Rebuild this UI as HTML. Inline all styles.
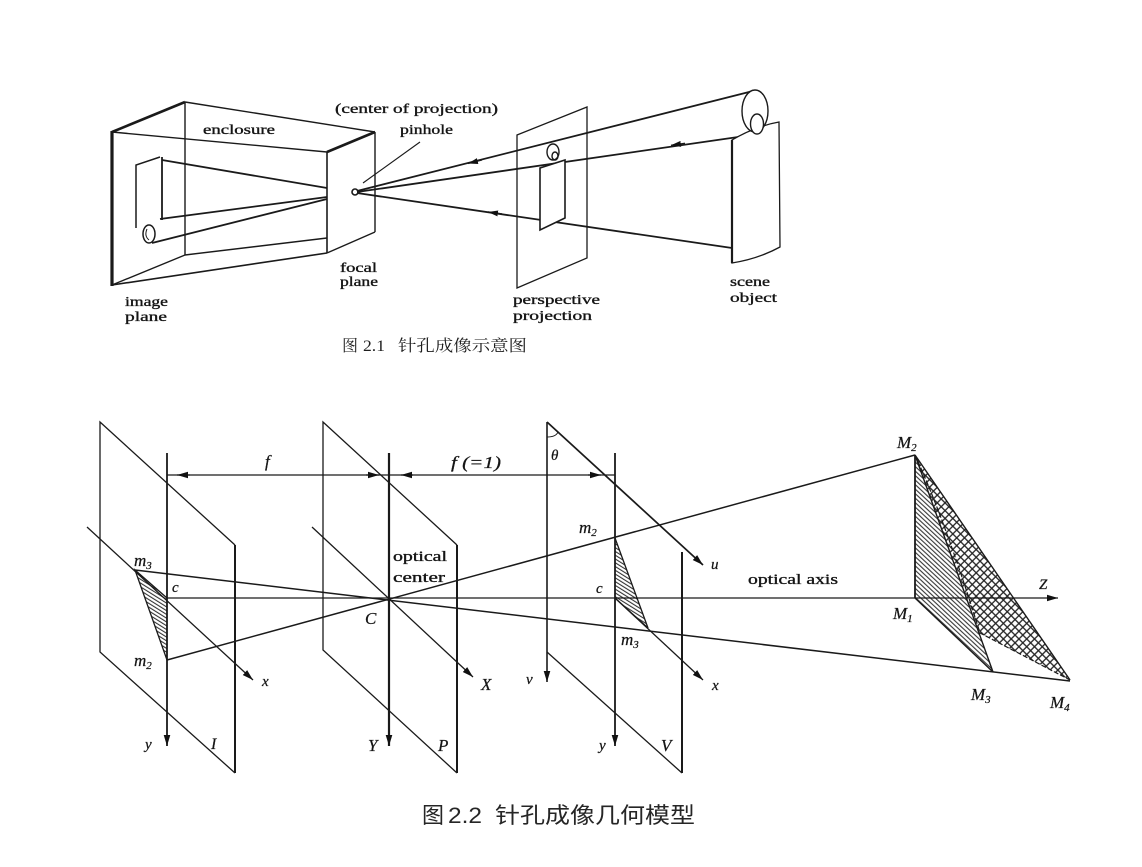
<!DOCTYPE html>
<html><head><meta charset="utf-8">
<style>
html,body{margin:0;padding:0;background:#fff;}
svg{display:block;}
.s{font-family:"Liberation Serif",serif;fill:#151515;stroke:#151515;stroke-width:0.35;}
.i{font-family:"Liberation Serif",serif;font-style:italic;fill:#151515;stroke:#151515;stroke-width:0.25;}
</style></head>
<body>
<svg width="1142" height="867" viewBox="0 0 1142 867" xmlns="http://www.w3.org/2000/svg">
<defs>
 <marker id="a" viewBox="0 0 10 6" refX="10" refY="3" markerWidth="11" markerHeight="7" markerUnits="userSpaceOnUse" orient="auto"><path d="M0,0L10,3L0,6z" fill="#111"/></marker>
 <marker id="b" viewBox="0 0 10 6" refX="10" refY="3" markerWidth="10" markerHeight="6" markerUnits="userSpaceOnUse" orient="auto"><path d="M0,0L10,3L0,6z" fill="#111"/></marker>
 <pattern id="h1" patternUnits="userSpaceOnUse" width="8" height="3.2" patternTransform="rotate(32)"><line x1="0" y1="0.8" x2="8" y2="0.8" stroke="#222" stroke-width="1"/></pattern>
 <pattern id="h2" patternUnits="userSpaceOnUse" width="8" height="3.3" patternTransform="rotate(43)"><line x1="0" y1="0.8" x2="8" y2="0.8" stroke="#222" stroke-width="1"/></pattern>
 <pattern id="h3" patternUnits="userSpaceOnUse" width="5.5" height="5.5" patternTransform="rotate(45)"><line x1="0" y1="0.8" x2="5.5" y2="0.8" stroke="#222" stroke-width="1.3"/><line x1="0.8" y1="0" x2="0.8" y2="5.5" stroke="#222" stroke-width="1.3"/></pattern>
</defs>
<rect width="1142" height="867" fill="#fff"/>

<!-- ============ FIGURE 2.1 ============ -->
<g stroke="#1a1a1a" fill="none" stroke-width="1.4">
 <line x1="112" y1="132" x2="185" y2="102" stroke-width="2.6"/>
 <line x1="112" y1="131" x2="112" y2="286" stroke-width="3.2"/>
 <line x1="185" y1="102" x2="185" y2="255"/>
 <line x1="112" y1="285" x2="185" y2="255"/>
 <line x1="112" y1="132" x2="327" y2="152"/>
 <line x1="185" y1="102" x2="375" y2="132"/>
 <line x1="112" y1="285" x2="327" y2="253" stroke-width="1.6"/>
 <line x1="185" y1="255" x2="327" y2="238"/>
 <line x1="327" y1="152" x2="375" y2="132" stroke-width="2.6"/>
 <line x1="327" y1="152" x2="327" y2="253" stroke-width="1.6"/>
 <line x1="375" y1="132" x2="375" y2="232"/>
 <line x1="327" y1="253" x2="375" y2="232"/>
 <polyline points="136,228 136,165 160,157" stroke-width="1.5"/>
 <line x1="162" y1="157" x2="162" y2="220" stroke-width="1.8"/>
 <line x1="162" y1="160" x2="327" y2="188" stroke-width="1.8"/>
 <line x1="160" y1="219" x2="327" y2="197" stroke-width="1.8"/>
 <line x1="152" y1="243" x2="327" y2="199" stroke-width="1.8"/>
 <ellipse cx="149" cy="234" rx="6" ry="9" fill="#fff" stroke-width="1.5"/>
 <path d="M147,229 Q144,236 149,240" stroke-width="1"/>
 <circle cx="355" cy="192" r="3" stroke-width="1.6"/>
 <line x1="363" y1="183" x2="420" y2="142" stroke-width="1.1"/>
 <line x1="357" y1="191" x2="753" y2="91" stroke-width="1.8"/>
 <line x1="357" y1="192" x2="752" y2="135" stroke-width="1.8"/>
 <line x1="357" y1="193" x2="732" y2="248" stroke-width="1.8"/>
 <line x1="482" y1="160" x2="468" y2="163.5" marker-end="url(#b)"/>
 <line x1="685" y1="143.3" x2="671" y2="145.3" marker-end="url(#b)"/>
 <line x1="502" y1="214" x2="488" y2="212" marker-end="url(#b)"/>
 <polygon points="517,135 587,107 587,258 517,288" fill="none" stroke-width="1.3"/>
 <polygon points="540,168 565,160 565,218 540,230" fill="#fff" stroke-width="1.6"/>
 <ellipse cx="553" cy="152" rx="6" ry="8" fill="#fff"/>
 <ellipse cx="555" cy="156" rx="3" ry="4"/>
 <path d="M732,140 Q756,126 779,122 L780,247 Q758,259 732,263 Z" fill="#fff" stroke-width="1.3"/>
 <line x1="732" y1="140" x2="732" y2="263" stroke-width="2.2"/>
 <ellipse cx="755" cy="111" rx="13" ry="21" fill="#fff" stroke-width="1.4"/>
 <ellipse cx="757" cy="124" rx="6.5" ry="10" fill="#fff" stroke-width="1.4"/>
</g>
<g class="s" font-size="14">
 <text x="335" y="113" textLength="163" lengthAdjust="spacingAndGlyphs">(center of projection)</text>
 <text x="400" y="134" textLength="53" lengthAdjust="spacingAndGlyphs">pinhole</text>
 <text x="203" y="134" textLength="72" lengthAdjust="spacingAndGlyphs">enclosure</text>
 <text x="340" y="272" textLength="37" lengthAdjust="spacingAndGlyphs">focal</text>
 <text x="340" y="286" textLength="38" lengthAdjust="spacingAndGlyphs">plane</text>
 <text x="125" y="306" textLength="43" lengthAdjust="spacingAndGlyphs">image</text>
 <text x="125" y="321" textLength="42" lengthAdjust="spacingAndGlyphs">plane</text>
 <text x="513" y="304" textLength="87" lengthAdjust="spacingAndGlyphs">perspective</text>
 <text x="513" y="320" textLength="79" lengthAdjust="spacingAndGlyphs">projection</text>
 <text x="730" y="286" textLength="40" lengthAdjust="spacingAndGlyphs">scene</text>
 <text x="730" y="302" textLength="47" lengthAdjust="spacingAndGlyphs">object</text>
</g>
<g fill="#1e1e1e" font-size="16">
 <text x="342" y="351" font-family="'Noto Serif CJK SC','Noto Sans CJK SC',serif">图</text>
 <text x="363" y="351" font-family="'Liberation Serif',serif" textLength="22" lengthAdjust="spacingAndGlyphs">2.1</text>
 <text x="398" y="351" font-family="'Liberation Serif','Noto Serif CJK SC',serif" textLength="129" lengthAdjust="spacingAndGlyphs">针孔成像示意图</text>
</g>

<!-- ============ FIGURE 2.2 ============ -->
<polygon points="915,455 980,633 1070,680" fill="url(#h3)"/>
<polygon points="915,455 915,598 993,672" fill="url(#h2)"/>
<polygon points="135,570 167,598 167,660" fill="url(#h1)"/>
<polygon points="615,538 615,598 648,628" fill="url(#h1)"/>

<g stroke="#1a1a1a" fill="none" stroke-width="1.3">
 <polyline points="235,545 100,422 100,652 235,773"/>
 <line x1="235" y1="545" x2="235" y2="773" stroke-width="2"/>
 <polyline points="457,545 323,422 323,650 457,773"/>
 <line x1="457" y1="545" x2="457" y2="773" stroke-width="2"/>
 <line x1="547" y1="652" x2="682" y2="773"/>
 <line x1="682" y1="552" x2="682" y2="773" stroke-width="2"/>
 <line x1="547" y1="422" x2="703" y2="565" stroke-width="1.7" marker-end="url(#a)"/>
 <line x1="547" y1="422" x2="547" y2="682" stroke-width="1.6" marker-end="url(#a)"/>
 <path d="M547,437 Q556,437 558,432" stroke-width="1"/>
 <line x1="167" y1="453" x2="167" y2="746" stroke-width="1.8" marker-end="url(#a)"/>
 <line x1="389" y1="453" x2="389" y2="746" stroke-width="2.2" marker-end="url(#a)"/>
 <line x1="615" y1="453" x2="615" y2="746" stroke-width="1.8" marker-end="url(#a)"/>
 <line x1="167" y1="475" x2="615" y2="475" stroke-width="1.3"/>
 <line x1="190" y1="475" x2="177" y2="475" marker-end="url(#a)"/>
 <line x1="366" y1="475" x2="379" y2="475" marker-end="url(#a)"/>
 <line x1="413" y1="475" x2="401" y2="475" marker-end="url(#a)"/>
 <line x1="588" y1="475" x2="601" y2="475" marker-end="url(#a)"/>
 <line x1="87" y1="527" x2="253" y2="680" stroke-width="1.3" marker-end="url(#a)"/>
 <line x1="312" y1="527" x2="473" y2="677" stroke-width="1.3" marker-end="url(#a)"/>
 <line x1="615" y1="598" x2="703" y2="680" stroke-width="1.3" marker-end="url(#a)"/>
 <line x1="167" y1="598" x2="1058" y2="598" stroke-width="1.3" marker-end="url(#a)"/>
 <line x1="135" y1="570" x2="1070" y2="681" stroke-width="1.5"/>
 <line x1="167" y1="660" x2="915" y2="455" stroke-width="1.5"/>
 <polyline points="167,598 135,570 167,660"/>
 <polyline points="615,538 648,628 615,598"/>
 <line x1="915" y1="455" x2="915" y2="598" stroke-width="1.8"/>
 <line x1="915" y1="598" x2="993" y2="672" stroke-width="1.4"/>
 <line x1="915" y1="455" x2="993" y2="672" stroke-width="1.4"/>
 <line x1="915" y1="455" x2="1070" y2="680" stroke-width="1.4"/>
 <path d="M915,455 Q945,520 980,633 L1070,680" stroke-width="1.2" stroke-dasharray="5,2"/>
</g>

<g class="i" font-size="17">
 <text x="265" y="467">f</text>
 <text x="451" y="468" textLength="50" lengthAdjust="spacingAndGlyphs">f (=1)</text>
 <text x="551" y="460" font-size="15">θ</text>
 <text x="134" y="566">m<tspan font-size="11" dy="3">3</tspan></text>
 <text x="172" y="592" font-size="15">c</text>
 <text x="134" y="666">m<tspan font-size="11" dy="3">2</tspan></text>
 <text x="262" y="686" font-size="15">x</text>
 <text x="145" y="749" font-size="15">y</text>
 <text x="211" y="749" font-size="16">I</text>
 <text x="365" y="624">C</text>
 <text x="481" y="690">X</text>
 <text x="368" y="751">Y</text>
 <text x="438" y="751">P</text>
 <text x="526" y="684" font-size="15">v</text>
 <text x="579" y="533">m<tspan font-size="11" dy="3">2</tspan></text>
 <text x="596" y="593" font-size="15">c</text>
 <text x="621" y="645">m<tspan font-size="11" dy="3">3</tspan></text>
 <text x="711" y="569" font-size="15">u</text>
 <text x="712" y="690" font-size="15">x</text>
 <text x="599" y="750" font-size="15">y</text>
 <text x="661" y="751">V</text>
 <text x="897" y="448">M<tspan font-size="11" dy="3">2</tspan></text>
 <text x="1039" y="589" font-size="15">Z</text>
 <text x="893" y="619">M<tspan font-size="11" dy="3">1</tspan></text>
 <text x="971" y="700">M<tspan font-size="11" dy="3">3</tspan></text>
 <text x="1050" y="708">M<tspan font-size="11" dy="3">4</tspan></text>
</g>
<g class="s" font-size="15">
 <text x="393" y="561" textLength="54" lengthAdjust="spacingAndGlyphs">optical</text>
 <text x="393" y="582" textLength="52" lengthAdjust="spacingAndGlyphs">center</text>
 <text x="748" y="584" textLength="90" lengthAdjust="spacingAndGlyphs">optical axis</text>
</g>
<g fill="#262626" font-size="22">
 <text x="422" y="823" font-family="'Noto Sans CJK SC',sans-serif">图</text>
 <text x="448" y="823" font-family="'Liberation Sans',sans-serif" textLength="34" lengthAdjust="spacingAndGlyphs">2.2</text>
 <text x="495" y="823" font-family="'Liberation Sans','Noto Sans CJK SC',sans-serif" textLength="200" lengthAdjust="spacingAndGlyphs">针孔成像几何模型</text>
</g>
</svg>
</body></html>
